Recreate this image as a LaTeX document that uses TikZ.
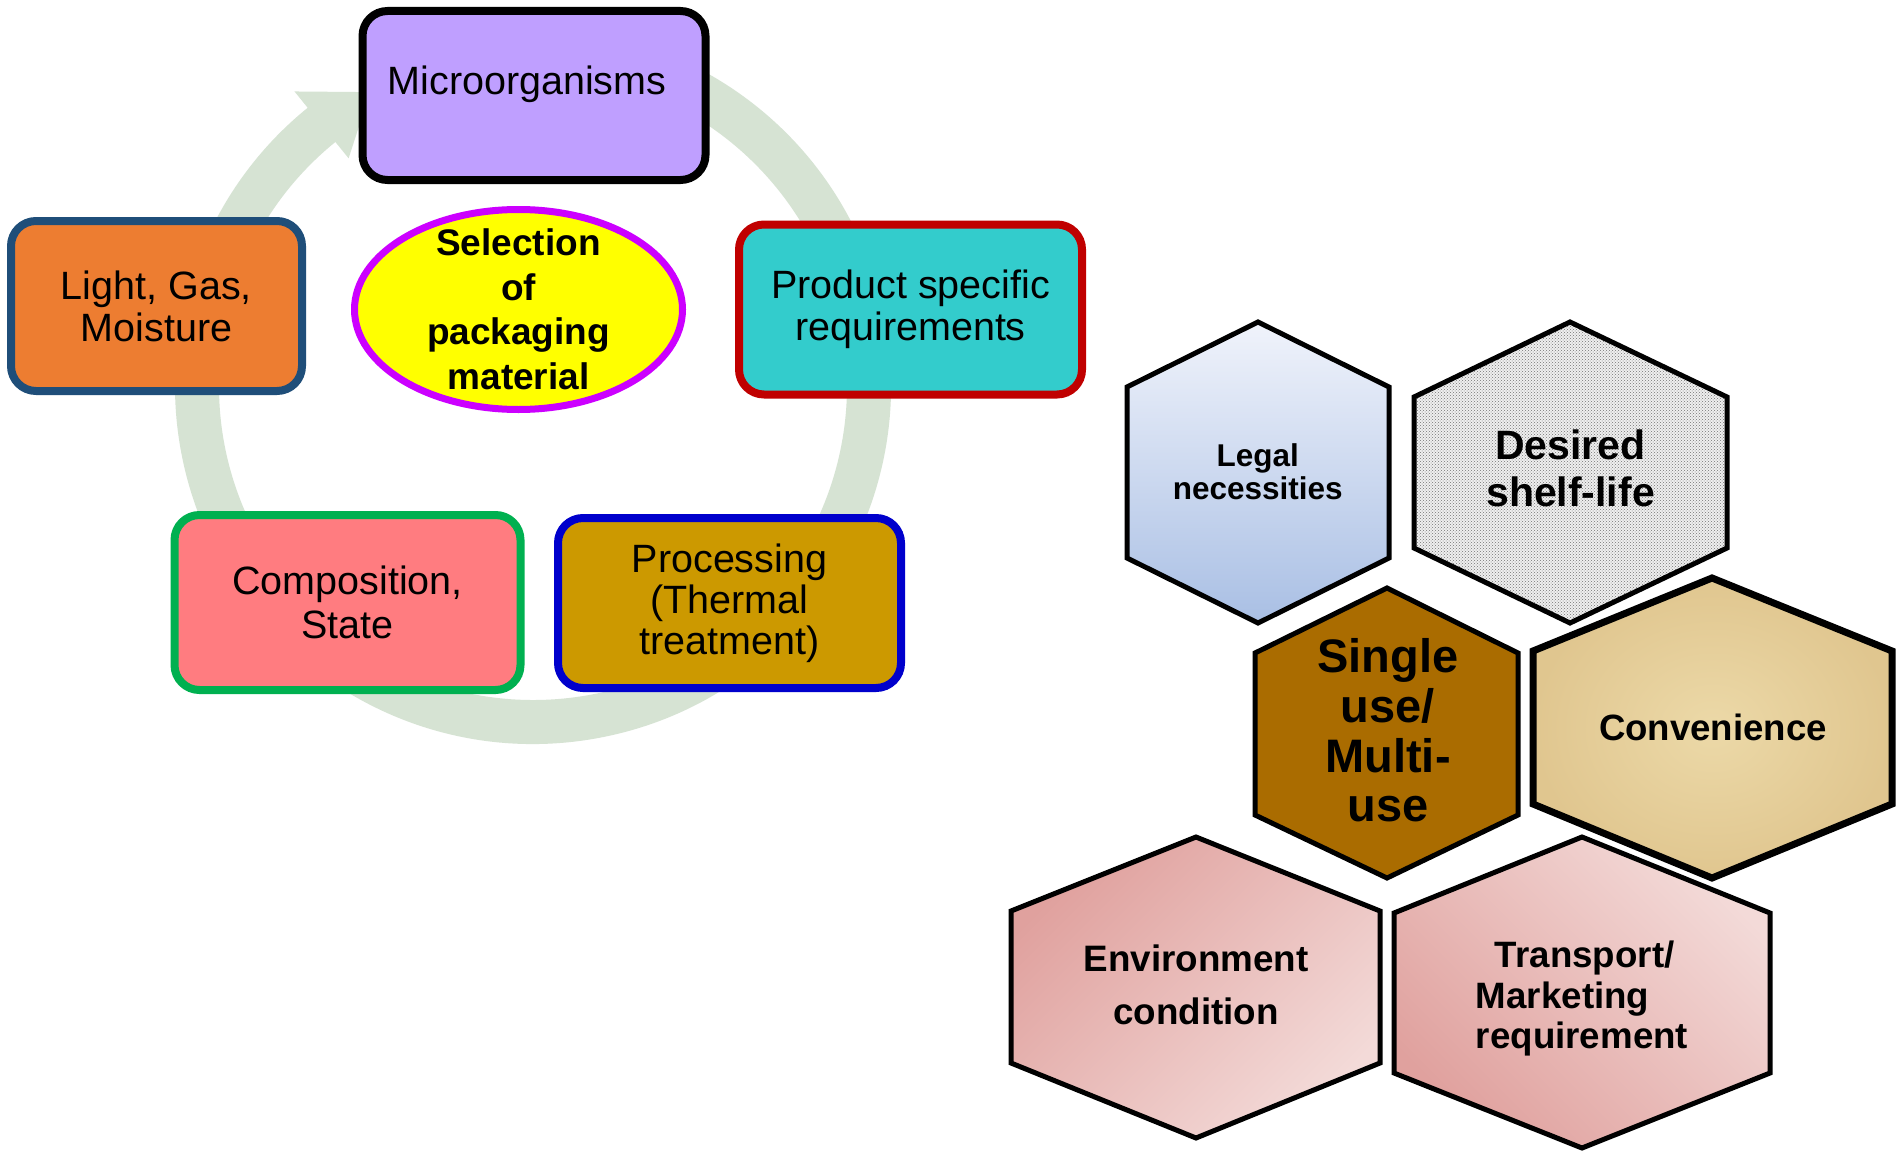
\documentclass[tikz,border=0pt]{standalone}
\usepackage{fontspec}
\setmainfont{Liberation Sans}
\usetikzlibrary{shapes.geometric,patterns}
\definecolor{ringc}{HTML}{D6E3D3}
\definecolor{microc}{HTML}{BF9FFF}
\definecolor{lightc}{HTML}{ED7D31}
\definecolor{lightb}{HTML}{1F4E79}
\definecolor{prodc}{HTML}{33CCCC}
\definecolor{prodb}{HTML}{C00000}
\definecolor{compc}{HTML}{FF7C80}
\definecolor{compb}{HTML}{00B050}
\definecolor{procc}{HTML}{CC9900}
\definecolor{procb}{HTML}{0000CC}
\definecolor{ellc}{HTML}{FFFF00}
\definecolor{ellb}{HTML}{CC00FF}
\definecolor{legaltop}{HTML}{F0F3FB}
\definecolor{legalbot}{HTML}{A9BFE4}
\definecolor{desfill}{HTML}{EFEFEF}
\definecolor{singlec}{HTML}{AA6C00}
\definecolor{convin}{HTML}{ECD9A8}
\definecolor{convout}{HTML}{E0C68F}
\definecolor{pinkdark}{HTML}{E0A19E}
\definecolor{pinklight}{HTML}{F3DAD8}
\begin{document}
\begin{tikzpicture}[x=1pt,y=1pt,
  cbox/.style={rectangle, rounded corners=25pt, line width=8pt, inner sep=0pt,
    align=center, font=\fontsize{39.5}{42}\selectfont},
  hexline/.style={line width=5pt, line join=miter, draw=black},
  hextext/.style={align=center, inner sep=0pt}]
\useasboundingbox[fill=white] (0,0) rectangle (1897,-1153);

% circular arrow
\begin{scope}[shift={(533,-386)}]
\fill[ringc] (100:358) arc[start angle=100,end angle=-231,radius=358]
  -- (-231:379) -- (-241:336) -- (-231:293) -- (-231:314)
  arc[start angle=-231,end angle=100,radius=314] -- cycle;
\end{scope}

% boxes
\node[cbox, fill=microc, draw=black, minimum width=343pt, minimum height=169pt,
  text height=20pt, text depth=22pt] (micro) at (534,-95.5) {Microorganisms\hspace*{14pt}};
\node[cbox, fill=lightc, draw=lightb, minimum width=291pt, minimum height=170pt]
  (light) at (156.5,-306) {Light, Gas,\\Moisture};
\node[cbox, fill=prodc, draw=prodb, minimum width=343pt, minimum height=170pt]
  (prod) at (910.5,-309.5) {Product specific\\requirements};
\node[cbox, fill=compc, draw=compb, minimum width=346pt, minimum height=175pt,
  font=\fontsize{39.5}{44}\selectfont]
  (comp) at (347.5,-602.5) {Composition,\\State};
\node[cbox, fill=procc, draw=procb, minimum width=343pt, minimum height=170pt,
  font=\fontsize{39.5}{41}\selectfont]
  (proc) at (729.5,-603) {Processing\\(Thermal\\treatment)};

% central ellipse
\draw[fill=ellc, draw=ellb, line width=7pt] (518.5,-309.5) ellipse[x radius=164, y radius=100];
\node[align=center, inner sep=0pt, font=\bfseries\fontsize{37}{44.5}\selectfont]
  (sel) at (518.5,-309.5) {Selection\\of\\packaging\\material};

% hexagons
\draw[hexline, top color=legaltop, bottom color=legalbot]
  (1258,-322) -- (1389,-387) -- (1389,-558) -- (1258,-623) -- (1127,-558) -- (1127,-387) -- cycle;
\draw[hexline, preaction={fill=desfill}, pattern=crosshatch dots, pattern color=black!55]
  (1570,-322) -- (1727,-397) -- (1727,-548) -- (1570,-623) -- (1414,-548) -- (1414,-397) -- cycle;
\draw[hexline, fill=singlec]
  (1387,-588) -- (1518,-653) -- (1518,-815) -- (1387,-878) -- (1255,-815) -- (1255,-653) -- cycle;
\draw[hexline, line width=7pt, inner color=convin, outer color=convout]
  (1712,-578) -- (1892,-651) -- (1892,-804) -- (1712,-878) -- (1533,-804) -- (1533,-651) -- cycle;
\draw[hexline, top color=pinkdark, bottom color=pinklight, shading angle=45]
  (1196,-837) -- (1380,-911) -- (1380,-1063) -- (1196,-1138) -- (1011,-1063) -- (1011,-911) -- cycle;
\draw[hexline, top color=pinklight, bottom color=pinkdark, shading angle=-45]
  (1582,-837) -- (1770,-913) -- (1770,-1073) -- (1582,-1148) -- (1394,-1073) -- (1394,-913) -- cycle;

\node[hextext, font=\bfseries\fontsize{31.5}{33.3}\selectfont] (legal) at (1257.7,-472) {Legal\\necessities};
\node[hextext, font=\bfseries\fontsize{41}{47}\selectfont] (desired) at (1570.5,-468) {Desired\\shelf-life};
\node[hextext, font=\bfseries\fontsize{47}{49.7}\selectfont] (single) at (1388,-730.6) {Single\\use/\\Multi-\\use};
\node[hextext, font=\bfseries\fontsize{36.6}{40}\selectfont] (conv) at (1713,-727) {Convenience};
\node[hextext, font=\bfseries\fontsize{36.8}{52.3}\selectfont] (env) at (1196,-984.7) {Environment\\condition};
\node[hextext, align=left, font=\bfseries\fontsize{36.7}{40.3}\selectfont] (trans) at (1582,-998.7)
  {\hspace*{19pt}Transport/\\Marketing\\requirement};
\end{tikzpicture}
\end{document}
